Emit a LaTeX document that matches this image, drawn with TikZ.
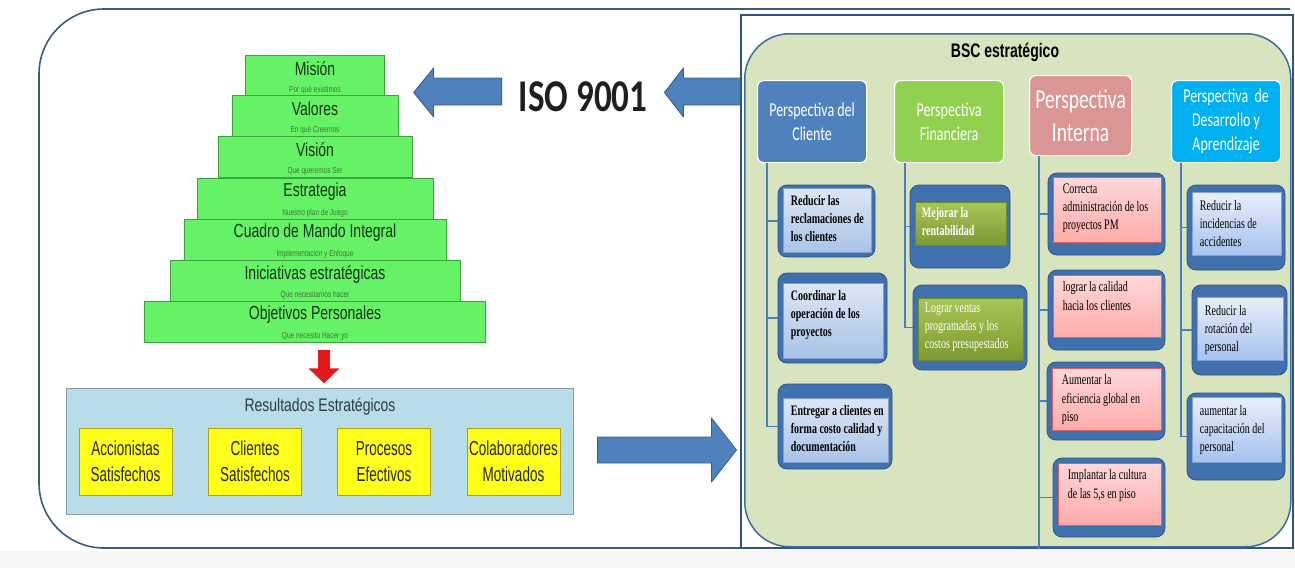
\documentclass[tikz,border=0pt]{standalone}
\usepackage{fontspec}
\setmainfont{Liberation Serif}
\setsansfont{Liberation Sans}
\newfontfamily\calibri{Carlito}
\usetikzlibrary{positioning,fit,arrows.meta}

% colores
\definecolor{frameblue}{HTML}{3E5A78}
\definecolor{pyrfill}{HTML}{66F266}
\definecolor{pyrline}{HTML}{3DA33D}
\definecolor{pyrtext}{HTML}{173417}
\definecolor{pyrsub}{HTML}{3A7A3A}
\definecolor{resfill}{HTML}{B7DDE8}
\definecolor{resline}{HTML}{8A9BA6}
\definecolor{restext}{HTML}{2E3B46}
\definecolor{yelfill}{HTML}{FFFF1A}
\definecolor{yelline}{HTML}{B8A000}
\definecolor{redarrow}{HTML}{E3191C}
\definecolor{arrfill}{HTML}{4F81BD}
\definecolor{arrline}{HTML}{385D8A}
\definecolor{panelline}{HTML}{2F5382}
\definecolor{bscbg}{HTML}{D8E4BE}
\definecolor{bscline}{HTML}{3F6C9F}
\definecolor{hdrcli}{HTML}{4F81BD}
\definecolor{hdrfin}{HTML}{92D050}
\definecolor{hdrint}{HTML}{D99694}
\definecolor{hdrdes}{HTML}{00B0F0}
\definecolor{goalblue}{HTML}{4170AE}
\definecolor{goalline}{HTML}{2F5487}
\definecolor{linkblue}{HTML}{4A7EBB}
\definecolor{clitop}{HTML}{DCE7F5}
\definecolor{clibot}{HTML}{A9C3E8}
\definecolor{cliline}{HTML}{7FA0CF}
\definecolor{fintop}{HTML}{A8C656}
\definecolor{finbot}{HTML}{7C9A32}
\definecolor{finline}{HTML}{6E8A2A}
\definecolor{inttop}{HTML}{FFD8D8}
\definecolor{intbot}{HTML}{FFABAB}
\definecolor{intline}{HTML}{E06060}
\definecolor{destop}{HTML}{E8EFFB}
\definecolor{desbot}{HTML}{A6C2EE}
\definecolor{desline}{HTML}{7FA3D9}

\tikzset{
  outerframe/.style={draw=frameblue, line width=1.6pt, rounded corners=65pt},
  pyrlevel/.style={draw=pyrline, fill=pyrfill, minimum height=41pt, anchor=north, inner sep=0pt},
  lvltitle/.style={font=\sffamily\fontsize{14}{16}\selectfont, text=pyrtext, yscale=1.35},
  lvlsub/.style={font=\sffamily\fontsize{6.5}{7}\selectfont, text=pyrsub, yscale=1.35},
  resbox/.style={draw=resline, line width=1pt, fill=resfill, minimum width=507pt, minimum height=126pt},
  restitle/.style={font=\sffamily\fontsize{14}{16}\selectfont, text=restext, yscale=1.3},
  result/.style={draw=yelline, line width=0.8pt, fill=yelfill, minimum width=93pt, minimum height=67pt},
  resname/.style={font=\sffamily\fontsize{13.5}{17.5}\selectfont, text=black!85, align=center, yscale=1.5},
  downarrow/.style={draw=redarrow, line width=12pt, -{Triangle[width=30pt,length=15pt]}},
  blockarrow/.style={fill=arrfill, draw=arrline, line width=0.8pt, line join=round},
  isotext/.style={font=\calibri\bfseries\fontsize{35}{40}\selectfont, text=black!88, inner sep=0pt, yscale=1.3},
  panel/.style={draw=panelline, line width=1.6pt, fill=white, minimum width=552pt, minimum height=533pt, anchor=north west, inner sep=0pt},
  bscback/.style={draw=bscline, line width=1.5pt, fill=bscbg, rounded corners=45pt, minimum width=546pt, minimum height=513pt, anchor=north west, inner sep=0pt},
  bsctitle/.style={font=\sffamily\bfseries\fontsize{14}{16}\selectfont, yscale=1.4},
  header/.style={draw=white, line width=1.2pt, rounded corners=6pt, minimum width=109pt, minimum height=82pt, anchor=north west, inner sep=0pt},
  hdrtext/.style={font=\calibri\fontsize{14}{17}\selectfont, text=white, align=center, yscale=1.4},
  goalout/.style={fill=goalblue, draw=goalline, line width=0.8pt, rounded corners=9pt, inner sep=0pt},
  clibox/.style={draw=cliline, line width=0.6pt, top color=clitop, bottom color=clibot, inner sep=0pt},
  finbox/.style={draw=finline, line width=0.6pt, top color=fintop, bottom color=finbot, inner sep=0pt},
  intbox/.style={draw=intline, line width=0.8pt, top color=inttop, bottom color=intbot, inner sep=0pt},
  desbox/.style={draw=desline, line width=0.6pt, top color=destop, bottom color=desbot, inner sep=0pt},
  goaltxt/.style={font=\fontsize{10}{12.5}\selectfont, align=left, anchor=north west, inner sep=0pt, yscale=1.45},
  goallink/.style={draw=linkblue, line width=1.1pt},
}

\begin{document}
\begin{tikzpicture}[x=1pt,y=-1pt]
\useasboundingbox (0,0) rectangle (1295,568);
\fill[gray!7] (0,551) rectangle (1295,568);
\draw[outerframe] (1290,9) -- (39,9) -- (39,548) -- (742,548);

% piramide
\foreach \n/\ty/\w/\ttl/\subt in {mis/55/139/Misión/Por qué existimos,
  val/95/166/Valores/En qué Creemos,
  vis/136/194/Visión/Que queremos Ser,
  est/178/236/Estrategia/Nuestro plan de Juego,
  cmi/219/262/Cuadro de Mando Integral/Implementación y Enfoque,
  ini/260/290/Iniciativas estratégicas/Que necesitamos hacer,
  obj/301/341/Objetivos Personales/Que necesito Hacer yo}{
  \node[pyrlevel, minimum width=\w pt] (\n) at (315,\ty) {};
  \node[lvltitle] (\n-t) at (315,\ty+14) {\ttl};
  \node[lvlsub] (\n-s) at (315,\ty+35) {\subt};
}

% resultados
\draw[downarrow] ([xshift=9pt,yshift=-8pt]obj.south) -- ++(0,33);
\node[resbox] (res) at (319.5,451) {};
\node[restitle] (res-t) at (320,407) {Resultados Estratégicos};
\foreach \n/\x/\txt in {acc/125.5/Accionistas\\Satisfechos, cls/255/Clientes\\Satisfechos,
  pro/384/Procesos\\Efectivos, col/513.5/Colaboradores\\Motivados}{
  \node[result] (\n) at (\x,461.5) {};
  \node[resname] (\n-t) at (\n) {\txt};
}

% ISO 9001 y flechas
\node[isotext] (iso) at (583,97) {ISO 9001};
\draw[blockarrow] (iso.west) ++(-17,-19) -- ++(0,27) -- ++(-68,0) -- ++(0,12) -- ++(-20,-24.5) -- ++(20,-24.5) -- ++(0,10) -- cycle;
\draw[blockarrow] (iso.east) ++(98,-19) -- ++(-62,0) -- ++(0,-10) -- ++(-19,24.5) -- ++(19,24.5) -- ++(0,-12) -- ++(62,0) -- cycle;
\draw[blockarrow] (res.east) ++(24,-14) -- ++(114,0) -- ++(0,-19) -- ++(25,32) -- ++(-25,32) -- ++(0,-19) -- ++(-114,0) -- cycle;

% BSC estrategico
\node[panel] (panel) at (740,14) {};
\node[bscback] (bsc) at (744,33) {};
\node[bsctitle] (bsc-t) at (1005,52) {BSC estratégico};

\node[header, fill=hdrcli] (cli) at (757,80) {};
\node[hdrtext] (cli-t) at (cli) {Perspectiva del\\Cliente};
\node[header, fill=hdrfin] (fin) at (894,80) {};
\node[hdrtext] (fin-t) at (fin) {Perspectiva\\Financiera};
\node[header, fill=hdrint, minimum width=102pt, minimum height=80pt] (int) at (1029,75) {};
\node[hdrtext, font=\calibri\fontsize{19.5}{23}\selectfont] (int-t) at (int) {Perspectiva\\Interna};
\node[header, fill=hdrdes] (des) at (1171,80) {};
\node[hdrtext] (des-t) at (des) {Perspectiva\ \ de\\Desarrollo y\\Aprendizaje};

\coordinate (cliline) at ([xshift=10pt]cli.south west);
\coordinate (finline) at ([xshift=11pt]fin.south west);
\coordinate (intline) at ([xshift=10pt]int.south west);
\coordinate (desline) at ([xshift=10pt]des.south west);
\draw[goallink] (intline) -- (intline |- panel.south);

% cliente
\foreach \n/\xa/\ya/\xb/\yb/\tp/\bt/\txt in {
  c1/778/185/875/257/3/5/{Reducir las\\reclamaciones de\\los clientes},
  c2/778/273/887/363/10/5/{Coordinar la\\operación de los\\proyectos},
  c3/778/384/892/469/14/7/{Entregar a clientes en\\forma costo calidad y\\documentación}}{
  \node[goalout, fit={(\xa,\ya) (\xb,\yb)}] (\n-o) {};
  \node[clibox, fit={(\xa+5,\ya+\tp) (\xb-4,\yb-\bt)}] (\n) {};
  \node[goaltxt, font=\fontsize{10}{12.5}\selectfont\bfseries] (\n-t) at ([xshift=8pt,yshift=-7pt]\n.north west) {\txt};
  \draw[goallink] (cliline) |- (\n-o.west);
}

% financiera
\foreach \n/\xa/\ya/\xb/\yb/\tp/\bt/\txt in {
  f1/910/185/1010/268/17/23/{\textbf{Mejorar la}\\\textbf{rentabilidad}},
  f2/913/285/1027/370/13/10/{Lograr ventas\\programadas y los\\costos presupestados}}{
  \node[goalout, fit={(\xa,\ya) (\xb,\yb)}] (\n-o) {};
  \node[finbox, fit={(\xa+5,\ya+\tp) (\xb-4,\yb-\bt)}] (\n) {};
  \node[goaltxt, text=white] (\n-t) at ([xshift=7pt,yshift=-5pt]\n.north west) {\txt};
  \draw[goallink] (finline) |- (\n-o.west);
}

% interna
\foreach \n/\xa/\ya/\xb/\yb/\tp/\bt/\txt in {
  i1/1048/173/1165/255/4/13/{Correcta\\administración de los\\proyectos PM},
  i2/1048/270/1165/350/5/13/{lograr la calidad\\hacia los clientes},
  i3/1047/362/1165/440/6/10/{Aumentar la\\eficiencia global en\\piso},
  i4/1053/458/1165/537/5/12/{Implantar la cultura\\de las 5,s en piso}}{
  \node[goalout, fit={(\xa,\ya) (\xb,\yb)}] (\n-o) {};
  \node[intbox, fit={(\xa+5,\ya+\tp) (\xb-4,\yb-\bt)}] (\n) {};
  \node[goaltxt] (\n-t) at ([xshift=10pt,yshift=-7pt]\n.north west) {\txt};
  \draw[goallink] (intline) |- (\n-o.west);
}

% desarrollo y aprendizaje
\foreach \n/\xa/\ya/\xb/\yb/\tp/\bt/\txt in {
  d1/1187/185/1285/270/7/15/{Reducir la\\incidencias de\\accidentes},
  d2/1192/285/1287/375/12/15/{Reducir la\\rotación del\\personal},
  d3/1187/393/1285/480/4/18/{aumentar la\\capacitación del\\personal}}{
  \node[goalout, fit={(\xa,\ya) (\xb,\yb)}] (\n-o) {};
  \node[desbox, fit={(\xa+5,\ya+\tp) (\xb-4,\yb-\bt)}] (\n) {};
  \node[goaltxt] (\n-t) at ([xshift=8pt,yshift=-8pt]\n.north west) {\txt};
  \draw[goallink] (desline) |- (\n-o.west);
}
\end{tikzpicture}
\end{document}
